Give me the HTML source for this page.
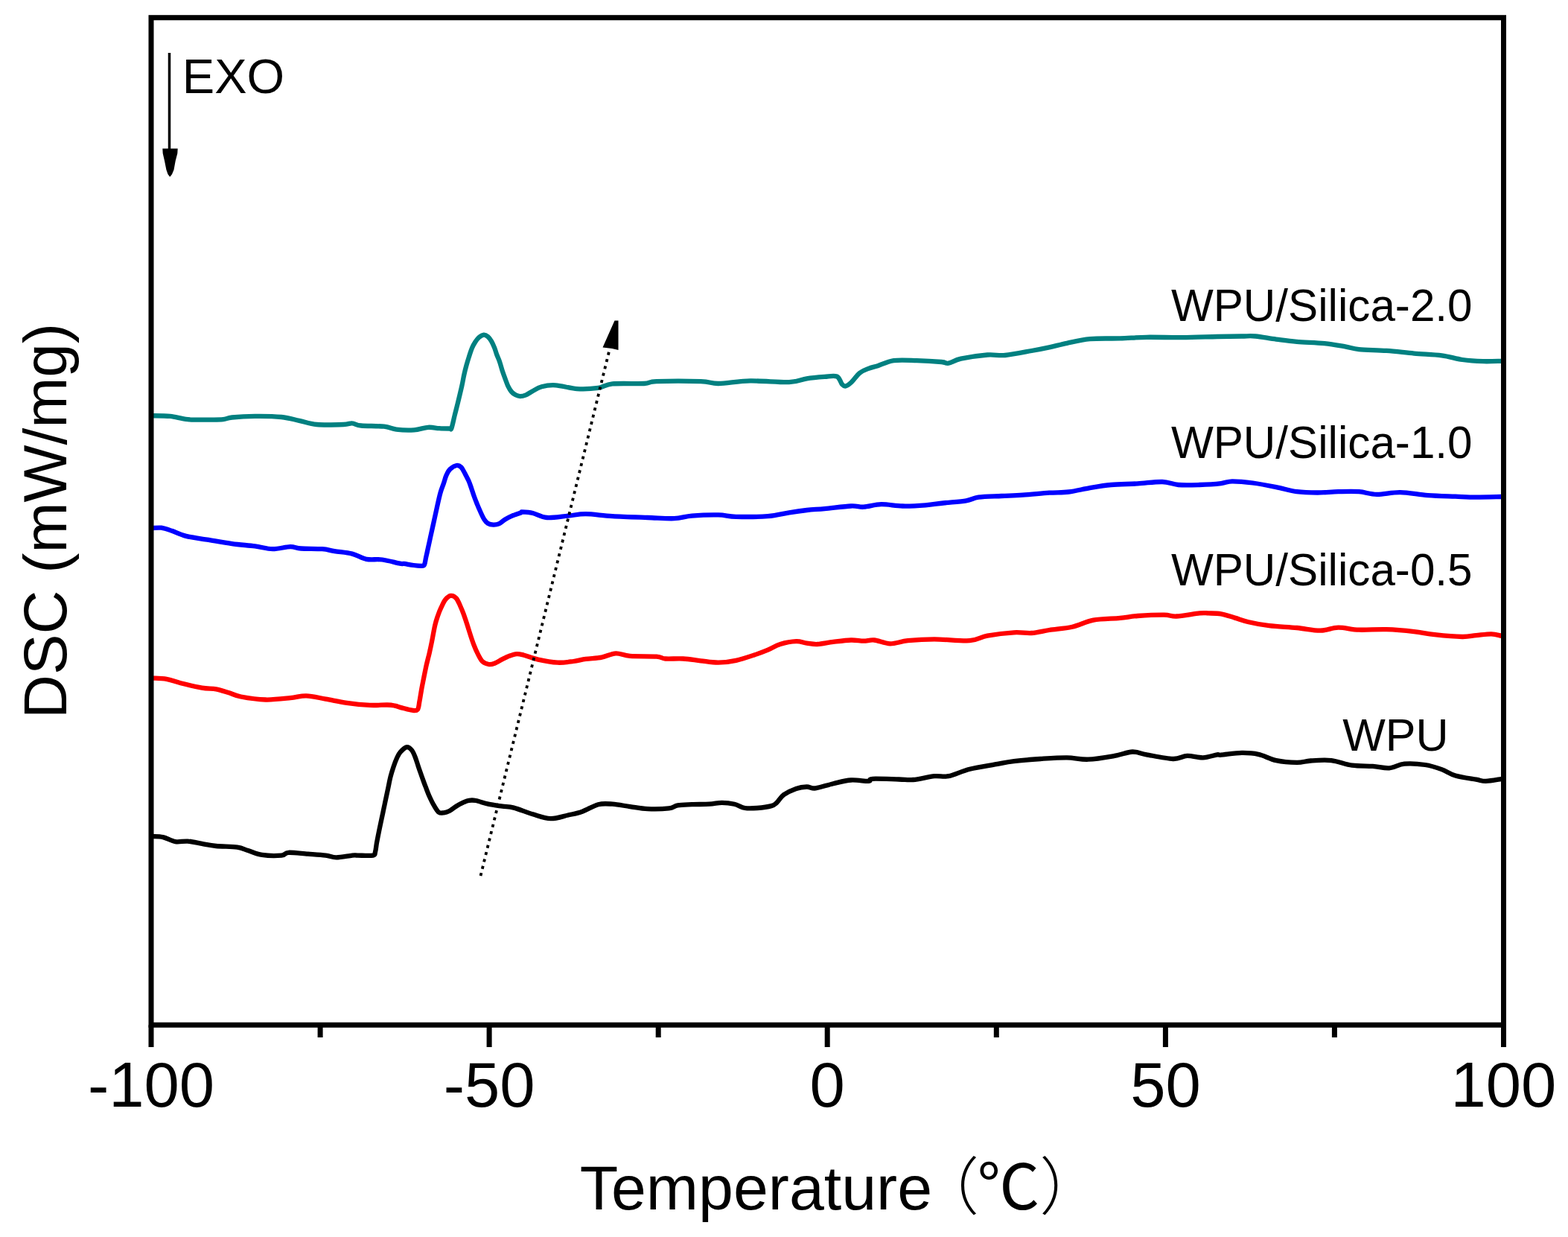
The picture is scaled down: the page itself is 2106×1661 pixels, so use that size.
<!DOCTYPE html>
<html><head><meta charset="utf-8"><title>DSC</title>
<style>
html,body{margin:0;padding:0;background:#fff;}
svg{display:block;}
text{font-family:"Liberation Sans","Noto Sans CJK SC",Arial,sans-serif;fill:#000;}
</style></head>
<body>
<svg width="2106" height="1661" viewBox="0 0 2106 1661">
<rect x="0" y="0" width="2106" height="1661" fill="#fff"/>
<g fill="none" stroke-linejoin="round" stroke-linecap="round" stroke-width="6.3">
<path stroke="#008080" d="M203.6,558.2 C207.8,558.3 220.4,558.1 228.5,558.9 C236.6,559.7 243.1,562.4 252.2,563.2 C261.3,564.0 275.2,563.6 283.1,563.6 C291.0,563.6 294.9,563.7 299.7,563.2 C304.4,562.7 304.5,561.2 311.6,560.5 C318.7,559.8 331.4,559.0 342.5,558.9 C353.6,558.8 368.1,559.0 378.0,560.0 C387.9,561.0 393.9,563.1 401.8,564.8 C409.7,566.5 415.6,569.1 425.5,570.0 C435.4,570.9 453.3,570.3 461.2,570.0 C469.1,569.7 469.1,568.1 473.0,568.4 C476.9,568.6 477.8,570.8 484.9,571.5 C492.0,572.2 507.9,571.8 515.8,572.7 C523.7,573.6 525.7,575.9 532.4,576.7 C539.1,577.5 549.0,577.9 556.1,577.4 C563.2,576.9 569.5,574.2 575.1,573.8 C580.8,573.4 585.2,574.9 590.0,575.2 C594.8,575.5 600.9,575.5 603.6,575.5 C606.3,575.5 605.2,577.9 606.4,575.0 C607.6,572.1 609.2,563.6 610.6,558.0 C612.0,552.4 613.3,547.7 614.9,541.1 C616.5,534.5 618.9,524.6 620.3,518.3 C621.7,512.0 622.3,507.7 623.3,503.2 C624.3,498.7 625.2,495.2 626.3,491.2 C627.4,487.2 628.6,483.1 629.9,479.1 C631.2,475.1 632.7,470.4 634.1,467.1 C635.5,463.8 636.8,461.6 638.3,459.3 C639.8,457.0 641.3,454.8 643.2,453.2 C645.1,451.6 647.8,449.8 649.8,449.6 C651.8,449.4 653.5,450.6 655.2,452.0 C656.9,453.4 658.5,455.6 660.0,458.1 C661.5,460.6 663.0,464.1 664.2,467.1 C665.4,470.1 666.1,473.1 667.2,476.1 C668.3,479.1 669.7,481.7 670.9,485.2 C672.1,488.7 673.3,493.5 674.5,497.2 C675.7,500.9 676.8,503.9 678.1,507.4 C679.4,510.9 680.8,515.2 682.3,518.3 C683.8,521.4 685.4,524.1 687.1,526.1 C688.8,528.1 690.6,529.3 692.5,530.3 C694.4,531.3 696.3,532.1 698.6,532.1 C700.9,532.1 703.7,531.4 706.4,530.3 C709.1,529.2 711.3,527.4 714.8,525.5 C718.3,523.6 722.2,520.6 727.5,519.2 C732.8,517.8 738.6,516.8 746.5,517.3 C754.4,517.8 765.5,521.5 775.0,522.1 C784.5,522.7 795.6,522.0 803.5,520.9 C811.4,519.8 812.2,516.4 822.5,515.4 C832.8,514.4 855.3,515.5 865.2,515.0 C875.1,514.5 869.1,512.6 881.8,512.1 C894.5,511.6 927.4,511.6 941.2,512.1 C955.1,512.6 953.8,515.1 964.9,515.0 C976.0,514.9 991.8,511.7 1007.6,511.4 C1023.4,511.1 1047.2,513.6 1059.9,513.1 C1072.6,512.6 1075.7,509.5 1083.6,508.3 C1091.5,507.1 1100.7,506.4 1107.4,505.9 C1114.1,505.4 1120.0,503.8 1124.0,505.5 C1128.0,507.2 1129.1,514.0 1131.1,516.2 C1133.1,518.4 1133.8,518.9 1135.8,518.5 C1137.8,518.1 1139.8,516.8 1143.0,513.8 C1146.2,510.8 1150.8,503.9 1154.8,500.7 C1158.8,497.5 1162.7,496.4 1166.7,494.8 C1170.7,493.2 1173.4,493.0 1179.0,491.2 C1184.6,489.4 1191.7,485.3 1200.4,484.1 C1209.1,482.9 1220.5,483.8 1231.2,484.1 C1241.9,484.4 1257.4,485.4 1264.5,486.0 C1271.6,486.6 1269.7,488.4 1274.0,487.7 C1278.3,487.0 1281.9,483.6 1290.6,481.7 C1299.3,479.8 1316.3,477.3 1326.2,476.5 C1336.1,475.7 1340.1,477.9 1350.0,477.0 C1359.9,476.1 1375.6,472.8 1385.5,471.0 C1395.4,469.2 1401.4,468.0 1409.3,466.3 C1417.2,464.6 1423.9,462.7 1433.0,460.8 C1442.1,458.9 1452.0,456.2 1463.9,455.1 C1475.8,454.0 1491.6,454.8 1504.3,454.4 C1517.0,454.0 1526.1,453.0 1539.9,452.8 C1553.8,452.6 1571.6,453.3 1587.4,453.2 C1603.2,453.1 1621.4,452.3 1634.8,452.0 C1648.2,451.7 1659.2,451.6 1667.8,451.5 C1676.4,451.4 1678.6,450.8 1686.3,451.5 C1694.0,452.2 1704.8,454.4 1714.1,455.6 C1723.4,456.8 1731.1,458.0 1741.9,458.9 C1752.7,459.8 1768.1,460.0 1778.9,461.1 C1789.7,462.2 1799.0,464.1 1806.7,465.4 C1814.4,466.7 1816.0,468.2 1825.2,469.1 C1834.5,470.0 1849.9,470.0 1862.2,470.9 C1874.5,471.8 1887.0,473.5 1899.3,474.6 C1911.6,475.7 1925.5,476.0 1936.3,477.4 C1947.1,478.8 1954.8,481.7 1964.1,483.0 C1973.4,484.3 1983.3,484.9 1991.9,485.2 C2000.5,485.5 2011.9,484.9 2015.9,484.8"/>
<path stroke="#0000ff" d="M204.7,709.2 C206.7,709.1 212.2,708.1 216.6,708.7 C221.0,709.3 225.3,710.9 230.9,712.8 C236.5,714.7 242.0,717.9 249.9,719.9 C257.8,721.9 268.0,722.9 278.3,724.6 C288.6,726.3 300.9,728.6 311.6,730.1 C322.3,731.6 333.4,732.2 342.5,733.4 C351.6,734.6 358.3,737.1 366.2,737.2 C374.1,737.3 383.6,734.2 389.9,734.1 C396.2,734.0 397.1,736.0 404.2,736.5 C411.3,737.0 425.2,736.6 432.7,737.2 C440.2,737.8 442.6,739.0 449.3,740.1 C456.0,741.2 465.9,741.8 473.0,743.6 C480.1,745.4 485.3,749.5 492.0,750.8 C498.7,752.1 505.9,750.5 513.4,751.5 C520.9,752.5 532.2,755.8 537.1,756.7 C542.0,757.6 539.6,756.5 542.6,756.9 C545.6,757.3 551.4,758.5 555.3,759.0 C559.2,759.5 563.3,759.9 565.8,759.8 C568.2,759.7 569.0,760.1 570.0,758.2 C571.0,756.3 571.2,752.5 572.1,748.6 C573.0,744.7 574.2,739.2 575.1,735.0 C576.0,730.8 576.7,727.8 577.6,723.6 C578.5,719.4 579.4,715.5 580.6,710.0 C581.8,704.5 583.6,696.4 584.8,690.9 C586.0,685.4 586.8,681.7 587.9,676.8 C589.0,671.9 590.3,666.0 591.6,661.4 C592.9,656.8 594.6,652.9 595.9,649.0 C597.2,645.1 598.1,641.1 599.6,637.9 C601.1,634.7 602.3,632.0 604.6,629.9 C606.9,627.8 610.7,625.4 613.2,625.0 C615.7,624.6 617.5,625.6 619.4,627.4 C621.2,629.1 622.6,632.5 624.3,635.5 C625.9,638.5 627.8,642.0 629.3,645.3 C630.8,648.6 631.8,651.7 633.0,655.2 C634.2,658.7 635.4,662.6 636.7,666.3 C638.0,670.0 639.6,673.9 641.0,677.4 C642.4,680.9 643.8,684.0 645.3,687.3 C646.8,690.6 648.6,694.6 650.2,697.2 C651.9,699.8 653.1,701.5 655.2,702.7 C657.3,703.9 660.1,704.5 662.6,704.6 C665.1,704.7 667.4,704.5 670.0,703.4 C672.6,702.3 675.1,699.5 678.0,697.8 C680.9,696.0 683.7,694.4 687.3,692.9 C690.9,691.4 697.2,689.4 699.6,688.5 C702.0,687.6 698.7,687.3 701.4,687.4 C704.1,687.5 710.1,687.7 715.6,689.0 C721.1,690.3 726.7,694.4 734.6,695.0 C742.5,695.6 754.4,693.4 763.1,692.6 C771.8,691.8 776.9,690.1 786.8,690.2 C796.7,690.3 808.6,692.3 822.5,693.1 C836.4,693.9 856.1,694.5 869.9,695.0 C883.7,695.5 895.6,696.6 905.5,696.2 C915.4,695.8 919.4,693.4 929.3,692.6 C939.2,691.8 955.0,691.2 964.9,691.4 C974.8,691.6 977.5,693.5 988.6,693.8 C999.7,694.1 1019.5,694.0 1031.4,693.1 C1043.3,692.2 1051.2,689.6 1059.9,688.3 C1068.6,686.9 1075.7,685.9 1083.6,685.0 C1091.5,684.1 1097.5,684.0 1107.4,683.1 C1117.3,682.2 1134.2,679.9 1143.0,679.5 C1151.8,679.1 1153.2,681.1 1160.0,680.7 C1166.8,680.3 1175.0,677.4 1183.7,677.2 C1192.4,677.0 1202.3,679.3 1212.2,679.5 C1222.1,679.7 1234.0,679.0 1243.1,678.3 C1252.2,677.6 1257.7,676.5 1266.8,675.5 C1275.9,674.5 1289.8,673.7 1297.7,672.4 C1305.6,671.1 1306.4,668.8 1314.3,667.7 C1322.2,666.6 1335.3,666.5 1345.2,666.0 C1355.1,665.5 1363.0,665.3 1373.7,664.6 C1384.4,663.9 1399.0,662.4 1409.3,661.7 C1419.6,661.0 1426.3,661.6 1435.4,660.5 C1444.5,659.4 1454.4,656.7 1463.9,655.1 C1473.4,653.5 1481.7,652.0 1492.4,651.0 C1503.1,650.0 1516.5,650.1 1528.0,649.4 C1539.5,648.7 1552.1,646.7 1561.2,647.0 C1570.3,647.3 1574.3,650.3 1582.6,651.0 C1590.9,651.7 1601.5,651.3 1611.1,651.0 C1620.7,650.7 1632.7,649.9 1640.0,649.1 C1647.3,648.3 1647.7,646.4 1654.8,646.3 C1661.9,646.2 1672.7,647.2 1682.6,648.5 C1692.5,649.8 1704.2,652.1 1714.1,654.1 C1724.0,656.1 1732.7,659.0 1741.9,660.2 C1751.2,661.4 1760.3,661.5 1769.6,661.5 C1778.8,661.5 1788.1,660.4 1797.4,660.2 C1806.7,660.0 1816.6,659.6 1825.2,660.2 C1833.8,660.8 1840.0,663.8 1849.3,663.9 C1858.5,664.0 1869.3,660.9 1880.7,661.1 C1892.1,661.3 1905.5,664.3 1917.8,665.2 C1930.1,666.1 1944.0,666.3 1954.8,666.7 C1965.6,667.1 1972.4,667.6 1982.6,667.6 C1992.8,667.6 2010.4,667.1 2015.9,667.0"/>
<path stroke="#ff0000" d="M204.7,910.6 C207.9,910.8 217.4,910.7 223.7,911.8 C230.0,912.9 234.8,915.2 242.7,917.2 C250.6,919.2 263.3,922.2 271.2,923.6 C279.1,925.0 284.3,924.2 290.2,925.3 C296.1,926.4 301.2,928.3 306.8,930.0 C312.4,931.7 315.2,933.9 323.5,935.5 C331.8,937.1 345.6,939.2 356.7,939.5 C367.8,939.8 380.8,938.1 389.9,937.2 C399.0,936.3 403.4,934.1 411.3,934.3 C419.2,934.5 428.3,937.0 437.4,938.6 C446.5,940.2 456.0,942.4 465.9,943.8 C475.8,945.2 487.8,946.4 496.8,946.9 C505.8,947.4 514.4,946.4 520.0,946.5 C525.6,946.6 526.8,946.9 530.2,947.6 C533.6,948.3 536.6,949.6 540.5,950.6 C544.4,951.6 549.9,953.4 553.3,953.7 C556.7,954.1 559.2,954.8 560.9,952.7 C562.6,950.7 562.6,945.8 563.5,941.4 C564.4,937.0 565.2,931.2 566.1,926.1 C567.0,921.0 568.1,915.8 569.1,910.7 C570.1,905.6 571.2,900.1 572.2,895.4 C573.2,890.7 574.5,885.8 575.3,882.6 C576.1,879.4 576.1,879.8 576.9,876.1 C577.7,872.4 579.0,866.6 580.2,860.5 C581.4,854.4 582.9,845.4 584.2,839.7 C585.5,834.0 586.8,830.5 588.2,826.4 C589.6,822.3 591.1,818.7 592.8,815.2 C594.4,811.7 596.0,807.8 598.1,805.2 C600.2,802.7 603.0,800.2 605.4,799.9 C607.8,799.6 610.6,801.0 612.7,803.2 C614.8,805.4 616.4,809.7 618.0,813.2 C619.6,816.7 621.1,820.2 622.6,824.4 C624.1,828.6 625.8,833.5 627.3,838.3 C628.8,843.0 630.4,848.2 631.9,852.9 C633.4,857.5 634.9,862.0 636.5,866.2 C638.1,870.4 639.9,874.5 641.8,878.1 C643.7,881.7 645.4,885.7 647.8,888.0 C650.2,890.3 653.6,891.5 656.4,892.0 C659.1,892.5 661.3,891.8 664.3,890.7 C667.3,889.6 671.0,887.1 674.3,885.4 C677.6,883.7 680.9,881.9 684.2,880.7 C687.5,879.5 690.9,878.3 694.1,878.1 C697.4,877.9 698.9,878.5 703.7,879.7 C708.5,881.0 715.2,883.9 722.7,885.6 C730.2,887.3 741.0,889.3 748.9,889.7 C756.8,890.1 763.9,888.8 770.2,888.0 C776.5,887.2 780.5,885.8 786.8,884.9 C793.1,884.0 801.5,883.9 808.2,882.6 C814.9,881.3 820.9,877.6 827.2,877.3 C833.5,877.0 837.1,880.2 846.2,880.9 C855.3,881.6 873.9,881.0 881.8,881.6 C889.7,882.2 887.8,884.0 893.7,884.5 C899.6,885.0 909.5,884.0 917.4,884.5 C925.3,885.0 933.3,886.4 941.2,887.3 C949.1,888.2 957.0,889.8 964.9,889.7 C972.8,889.6 980.7,888.5 988.6,886.8 C996.5,885.1 1005.3,882.1 1012.4,879.7 C1019.5,877.3 1025.5,875.1 1031.4,872.6 C1037.3,870.1 1041.7,866.9 1048.0,865.0 C1054.3,863.1 1063.5,861.4 1069.4,861.2 C1075.3,861.0 1078.8,863.0 1083.6,863.6 C1088.3,864.2 1092.0,865.3 1097.9,865.0 C1103.8,864.7 1111.7,862.8 1119.2,861.9 C1126.7,861.0 1136.2,859.7 1143.0,859.5 C1149.8,859.3 1154.8,860.7 1160.0,860.7 C1165.2,860.7 1168.3,858.9 1174.2,859.5 C1180.1,860.1 1188.1,864.2 1195.6,864.3 C1203.1,864.4 1209.5,861.2 1219.4,860.2 C1229.3,859.2 1241.2,858.3 1255.0,858.3 C1268.8,858.3 1290.6,861.0 1302.5,860.2 C1314.4,859.4 1316.3,855.4 1326.2,853.6 C1336.1,851.8 1351.9,849.9 1361.8,849.3 C1371.7,848.7 1377.6,850.5 1385.5,850.0 C1393.4,849.5 1400.2,847.4 1409.3,846.0 C1418.4,844.6 1430.3,843.9 1440.2,841.7 C1450.1,839.5 1457.9,834.7 1468.6,832.7 C1479.3,830.7 1494.4,830.9 1504.3,829.9 C1514.2,828.9 1518.1,827.7 1528.0,827.0 C1537.9,826.3 1554.9,825.5 1563.6,825.6 C1572.3,825.7 1572.3,827.9 1580.2,827.5 C1588.1,827.1 1604.0,824.1 1611.1,823.4 C1618.2,822.7 1618.2,823.2 1623.0,823.4 C1627.8,823.6 1634.1,823.4 1640.0,824.4 C1645.9,825.4 1652.3,827.8 1658.5,829.6 C1664.7,831.4 1669.3,833.4 1677.0,835.2 C1684.7,837.0 1694.0,838.9 1704.8,840.2 C1715.6,841.5 1730.5,841.9 1741.9,843.0 C1753.3,844.1 1764.0,846.8 1773.3,846.7 C1782.5,846.6 1788.8,842.8 1797.4,842.6 C1806.1,842.4 1814.4,845.3 1825.2,845.7 C1836.0,846.1 1849.9,844.8 1862.2,845.2 C1874.5,845.6 1888.5,846.9 1899.3,848.1 C1910.1,849.3 1916.2,851.1 1927.0,852.2 C1937.8,853.4 1954.8,854.9 1964.1,855.0 C1973.4,855.1 1976.1,853.7 1982.6,853.1 C1989.1,852.5 1997.5,851.2 2003.0,851.3 C2008.5,851.4 2013.8,853.3 2015.9,853.7"/>
<path stroke="#000000" d="M204.7,1123.0 C207.1,1123.2 213.8,1122.9 219.0,1124.1 C224.2,1125.3 230.1,1129.2 235.6,1130.1 C241.1,1131.0 246.3,1129.1 252.2,1129.6 C258.1,1130.1 264.9,1131.8 271.2,1132.9 C277.5,1134.0 282.3,1135.2 290.2,1136.0 C298.1,1136.8 311.6,1136.7 318.7,1137.7 C325.8,1138.7 327.5,1140.3 333.0,1142.0 C338.5,1143.7 344.4,1146.8 351.9,1147.9 C359.4,1149.0 372.2,1149.1 378.1,1148.6 C384.1,1148.1 381.7,1145.1 387.6,1144.8 C393.5,1144.5 405.4,1146.1 413.7,1146.7 C422.0,1147.3 431.1,1147.8 437.4,1148.6 C443.7,1149.4 445.8,1151.4 451.7,1151.4 C457.6,1151.4 468.2,1149.1 473.0,1148.6 C477.8,1148.1 475.9,1148.6 480.5,1148.6 C485.1,1148.6 497.0,1149.4 500.9,1148.6 C504.8,1147.8 503.1,1146.9 504.0,1144.0 C504.9,1141.1 505.2,1135.9 506.1,1131.2 C507.0,1126.5 508.1,1120.8 509.1,1115.8 C510.1,1110.8 511.3,1105.4 512.2,1101.1 C513.1,1096.8 513.7,1094.3 514.6,1089.8 C515.5,1085.3 516.8,1079.4 517.9,1074.2 C519.0,1069.0 520.1,1063.8 521.2,1058.6 C522.3,1053.4 523.3,1047.8 524.5,1043.0 C525.7,1038.2 527.1,1033.9 528.5,1029.7 C529.9,1025.5 531.6,1021.1 533.1,1017.8 C534.6,1014.5 535.5,1012.3 537.7,1009.9 C539.9,1007.5 543.9,1003.7 546.4,1003.2 C548.9,1002.8 551.1,1005.0 553.0,1007.2 C554.9,1009.4 556.2,1013.0 557.6,1016.5 C559.0,1020.0 560.2,1024.2 561.6,1028.4 C563.0,1032.6 564.6,1037.1 566.2,1041.7 C567.9,1046.3 569.7,1051.6 571.5,1056.2 C573.3,1060.8 574.9,1065.3 576.8,1069.5 C578.7,1073.7 580.7,1077.9 582.8,1081.4 C584.9,1084.9 587.2,1089.1 589.4,1090.7 C591.6,1092.3 593.6,1091.6 596.0,1091.3 C598.4,1091.0 601.2,1090.1 604.0,1088.7 C606.8,1087.3 609.5,1084.6 612.6,1082.7 C615.7,1080.8 619.6,1078.7 622.5,1077.4 C625.4,1076.1 627.0,1075.2 629.8,1074.8 C632.6,1074.4 634.9,1074.2 639.2,1075.0 C643.5,1075.8 649.9,1078.4 655.8,1079.7 C661.7,1081.0 669.1,1081.8 674.8,1082.6 C680.5,1083.4 683.2,1082.8 690.0,1084.6 C696.8,1086.4 707.4,1090.9 715.6,1093.3 C723.8,1095.7 731.5,1099.0 739.4,1099.2 C747.3,1099.4 756.0,1096.1 763.1,1094.5 C770.2,1092.9 775.4,1092.1 782.1,1089.7 C788.8,1087.3 796.8,1081.9 803.5,1080.2 C810.2,1078.5 815.4,1079.2 822.5,1079.7 C829.6,1080.2 838.3,1082.0 846.2,1083.1 C854.1,1084.2 861.2,1085.8 869.9,1086.2 C878.6,1086.6 891.7,1086.2 898.4,1085.4 C905.1,1084.6 905.1,1082.3 910.3,1081.4 C915.4,1080.5 922.2,1080.5 929.3,1080.2 C936.4,1079.9 946.3,1080.1 953.0,1079.7 C959.7,1079.3 964.1,1077.8 969.6,1077.8 C975.1,1077.8 981.1,1078.5 986.3,1079.7 C991.4,1080.9 995.4,1084.1 1000.5,1085.0 C1005.6,1085.9 1011.2,1085.5 1017.1,1085.0 C1023.0,1084.5 1031.8,1083.3 1036.1,1082.1 C1040.4,1080.9 1040.4,1080.3 1043.2,1077.8 C1046.0,1075.3 1048.3,1070.3 1052.7,1067.2 C1057.1,1064.1 1064.2,1060.7 1069.4,1058.9 C1074.6,1057.1 1079.2,1056.6 1083.6,1056.5 C1087.9,1056.4 1089.6,1059.1 1095.5,1058.4 C1101.4,1057.7 1111.3,1054.0 1119.2,1052.2 C1127.1,1050.4 1135.1,1048.0 1143.0,1047.5 C1150.9,1047.0 1161.9,1049.2 1166.7,1048.9 C1171.5,1048.6 1165.1,1046.2 1171.9,1045.8 C1178.7,1045.4 1198.4,1046.3 1207.5,1046.5 C1216.6,1046.7 1218.6,1047.7 1226.5,1047.0 C1234.4,1046.3 1247.1,1043.0 1255.0,1042.2 C1262.9,1041.4 1266.1,1043.8 1274.0,1042.2 C1281.9,1040.6 1291.8,1035.4 1302.5,1032.7 C1313.2,1030.0 1328.2,1027.9 1338.1,1026.1 C1348.0,1024.3 1351.9,1023.3 1361.8,1022.1 C1371.7,1020.9 1385.5,1019.8 1397.4,1019.0 C1409.3,1018.2 1422.3,1017.2 1433.0,1017.3 C1443.7,1017.4 1450.8,1020.1 1461.5,1019.7 C1472.2,1019.3 1487.2,1016.6 1497.1,1014.9 C1507.0,1013.2 1513.8,1009.8 1520.9,1009.5 C1528.0,1009.2 1530.8,1011.7 1539.9,1013.3 C1549.0,1014.9 1566.4,1018.7 1575.5,1019.0 C1584.6,1019.3 1587.8,1015.2 1594.5,1014.9 C1601.2,1014.6 1609.1,1017.6 1615.8,1017.3 C1622.5,1017.0 1630.8,1013.9 1634.8,1013.3 C1638.8,1012.7 1634.5,1014.1 1640.0,1013.7 C1645.5,1013.3 1659.5,1011.0 1667.8,1010.9 C1676.1,1010.8 1682.3,1011.1 1690.0,1012.8 C1697.7,1014.5 1705.4,1019.2 1714.1,1021.1 C1722.8,1023.0 1734.2,1023.8 1741.9,1023.9 C1749.6,1024.0 1752.7,1022.0 1760.4,1021.5 C1768.1,1021.0 1778.8,1020.1 1788.1,1021.1 C1797.3,1022.1 1806.6,1026.3 1815.9,1027.6 C1825.2,1028.9 1835.4,1028.3 1843.7,1028.9 C1852.0,1029.5 1858.8,1031.8 1865.9,1031.3 C1873.0,1030.8 1878.3,1026.4 1886.3,1025.7 C1894.3,1025.0 1905.8,1025.8 1914.1,1027.0 C1922.4,1028.2 1929.5,1030.7 1936.3,1033.1 C1943.1,1035.5 1947.1,1039.2 1954.8,1041.5 C1962.5,1043.8 1975.8,1045.5 1982.6,1046.7 C1989.4,1047.9 1990.0,1049.0 1995.6,1048.9 C2001.1,1048.8 2012.5,1046.6 2015.9,1046.1"/>
</g>
<rect x="203" y="23.7" width="1816.5" height="1352.6" fill="none" stroke="#000" stroke-width="7"/>
<line x1="203.0" y1="1376.3" x2="203.0" y2="1406" stroke="#000" stroke-width="7"/><line x1="657.1" y1="1376.3" x2="657.1" y2="1406" stroke="#000" stroke-width="7"/><line x1="1111.2" y1="1376.3" x2="1111.2" y2="1406" stroke="#000" stroke-width="7"/><line x1="1565.4" y1="1376.3" x2="1565.4" y2="1406" stroke="#000" stroke-width="7"/><line x1="2019.5" y1="1376.3" x2="2019.5" y2="1406" stroke="#000" stroke-width="7"/><line x1="430.1" y1="1376.3" x2="430.1" y2="1393" stroke="#000" stroke-width="7"/><line x1="884.2" y1="1376.3" x2="884.2" y2="1393" stroke="#000" stroke-width="7"/><line x1="1338.3" y1="1376.3" x2="1338.3" y2="1393" stroke="#000" stroke-width="7"/><line x1="1792.4" y1="1376.3" x2="1792.4" y2="1393" stroke="#000" stroke-width="7"/>
<text x="203.0" y="1485.5" text-anchor="middle" font-size="85">-100</text><text x="657.1" y="1485.5" text-anchor="middle" font-size="85">-50</text><text x="1111.2" y="1485.5" text-anchor="middle" font-size="85">0</text><text x="1565.4" y="1485.5" text-anchor="middle" font-size="85">50</text><text x="2019.5" y="1485.5" text-anchor="middle" font-size="85">100</text>
<text y="1624" font-size="84.3"><tspan x="778.8">Temperature</tspan><tspan x="1231" font-size="84" font-weight="300" style="font-family:'Noto Sans CJK SC',sans-serif">（</tspan><tspan x="1312.5" font-size="84" style="font-family:'Noto Sans CJK SC',sans-serif">℃</tspan><tspan x="1396.3" font-size="84" font-weight="300" style="font-family:'Noto Sans CJK SC',sans-serif">）</tspan></text>
<text transform="translate(88.5,964.9) rotate(-90)" font-size="81.7">DSC (mW/mg)</text>
<line x1="227.5" y1="71" x2="227.5" y2="205" stroke="#000" stroke-width="3.5"/>
<polygon points="218.3,199.5 238.7,199.5 238.3,206 235.7,216 233.5,228 231,234 228.2,237.5 225.5,234 223.4,228 221,216 218.7,206" fill="#000"/>
<text x="244.8" y="124.5" font-size="65">EXO</text>
<line x1="645.5" y1="1176" x2="818" y2="472" stroke="#000" stroke-width="3.8" stroke-dasharray="4 5.6"/>
<polygon points="825.5,430.5 830.5,430.5 830.5,470 822,468 809.5,466.5" fill="#000"/>
<text x="1572.9" y="430.9" font-size="60.2">WPU/Silica-2.0</text>
<text x="1572.9" y="615.1" font-size="60.2">WPU/Silica-1.0</text>
<text x="1572.9" y="786" font-size="60.2">WPU/Silica-0.5</text>
<text x="1803.3" y="1007.8" font-size="61">WPU</text>
</svg>
</body></html>
